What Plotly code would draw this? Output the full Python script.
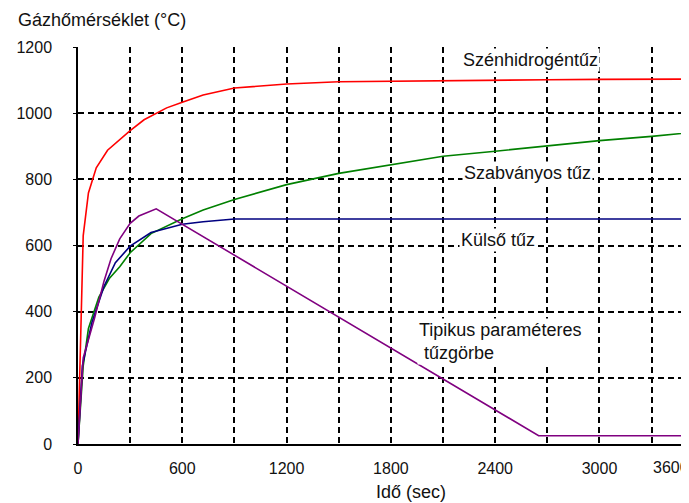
import plotly.graph_objects as go

# ---- data ----
hc_t = [0, 30, 60, 105, 170, 300, 380, 450, 510, 600, 720, 900, 1070, 1200, 1500, 1800, 2100, 2400, 2700, 3000, 3300, 3600]
hc_T = [0, 630, 759, 835, 888, 947, 980, 1000, 1016, 1033, 1055, 1076, 1084, 1088, 1095, 1097, 1099, 1100, 1101, 1102, 1103, 1103]

std_t = [0, 30, 60, 120, 180, 240, 300, 420, 600, 720, 900, 1200, 1500, 1800, 2100, 2400, 2700, 3000, 3300, 3600]
std_T = [0, 236, 349, 444, 500, 536, 578, 636, 681, 707, 739, 784, 818, 845, 870, 885, 902, 917, 930, 945]

ext_t = [0, 25, 80, 150, 215, 300, 420, 600, 720, 900, 1200, 1800, 2400, 3000, 3600]
ext_T = [0, 236, 367, 477, 548, 598, 639, 664, 672, 680, 680, 680, 680, 680, 680]

par_t = [0, 30, 95, 150, 190, 240, 300, 350, 450, 2650, 3600]
par_T = [0, 260, 380, 493, 560, 620, 667, 689, 711, 25, 25]

x_ticks = [0, 600, 1200, 1800, 2400, 3000]
x_tick_text = ["0", "600", "1200", "1800", "2400", "3000"]
x_last_tick = 3600
y_ticks = [0, 200, 400, 600, 800, 1000, 1200]

X_MAX = 3515
Y_MAX = 1200

FONT = "Liberation Sans, Arial, sans-serif"

fig = go.Figure()
fig.add_trace(go.Scatter(x=hc_t, y=hc_T, mode="lines", line=dict(color="#ff0000", width=1.6)))
fig.add_trace(go.Scatter(x=std_t, y=std_T, mode="lines", line=dict(color="#008000", width=1.6)))
fig.add_trace(go.Scatter(x=ext_t, y=ext_T, mode="lines", line=dict(color="#000080", width=1.6)))
fig.add_trace(go.Scatter(x=par_t, y=par_T, mode="lines", line=dict(color="#800080", width=1.6)))

# page body has an 8px margin, so the figure is sized to the visible area
fig.update_layout(
    width=681, height=495,
    margin=dict(l=70, r=0, t=39, b=59, autoexpand=False),
    paper_bgcolor="white", plot_bgcolor="white",
    showlegend=False,
    font=dict(family=FONT, size=16, color="#111111"),
    xaxis=dict(
        range=[0, X_MAX], tickvals=x_ticks, ticktext=x_tick_text,
        showline=True, linecolor="black", linewidth=1.5,
        ticks="", showgrid=True, gridcolor="black", gridwidth=2, griddash="6px,4px",
        minor=dict(dtick=300, tick0=0, showgrid=True, gridcolor="black", gridwidth=1.6, griddash="6px,4px"),
        zeroline=False, ticklabelstandoff=9, automargin=False,
        fixedrange=True,
    ),
    yaxis=dict(
        range=[0, Y_MAX], tickvals=y_ticks,
        showline=True, linecolor="black", linewidth=1.5,
        ticks="outside", ticklen=3, tickcolor="black",
        showgrid=True, gridcolor="black", gridwidth=2, griddash="6px,4px",
        zeroline=False, ticklabelstandoff=18, automargin=False,
        fixedrange=True,
    ),
)

# axis titles
fig.add_annotation(text="Gázhőmérséklet (°C)", xref="paper", yref="paper", x=0, y=1,
                   xshift=-62, yshift=27, xanchor="left", yanchor="middle",
                   showarrow=False, font=dict(size=18))
fig.add_annotation(text="Idő (sec)", xref="paper", yref="paper", x=(411 - 78) / 611, y=0,
                   yshift=-48, xanchor="center", yanchor="middle",
                   showarrow=False, font=dict(size=18))
# last tick label, pushed to the right edge and cut off as in the original
fig.add_annotation(text=str(x_last_tick), xref="paper", yref="paper", x=1, y=0,
                   xshift=-38, yshift=-23, xanchor="left", yanchor="middle", showarrow=False,
                   font=dict(size=16))

labels = [
    ("Szénhidrogéntűz", 2604, 1162, "center"),
    ("Szabványos tűz", 2586, 820, "center"),
    ("Külső tűz", 2414, 616, "center"),
    ("Tipikus paraméteres<br> tűzgörbe", 1950, 311, "left"),
]
for txt, xv, yv, anc in labels:
    fig.add_annotation(text=txt, x=xv, y=yv, xanchor=anc, yanchor="middle", align="left",
                       showarrow=False, bgcolor="white", font=dict(size=18))

fig.write_html("out.html")
